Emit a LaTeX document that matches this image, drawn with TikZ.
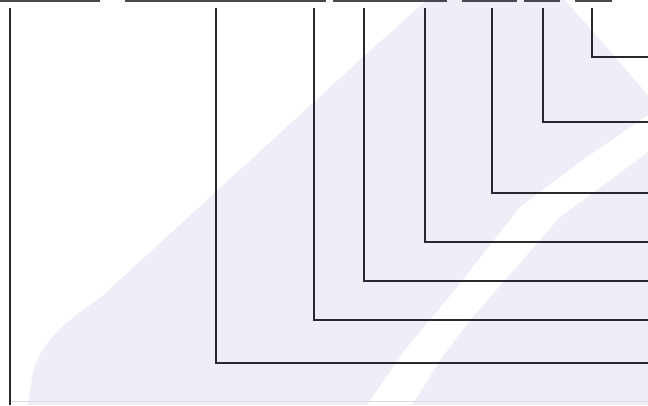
\documentclass[tikz,border=0pt]{standalone}
\usetikzlibrary{calc}
\definecolor{lav}{RGB}{239,238,248}
\definecolor{wire}{RGB}{40,40,46}
\definecolor{faint}{RGB}{218,217,228}
\tikzset{
  wirestyle/.style={draw=wire, line width=1.2pt},
  barstyle/.style={draw=wire!85, line width=1.6pt},
  washstyle/.style={fill=lav, draw=none},
}
\begin{document}
\begin{tikzpicture}[x=1pt,y=-1pt]
\useasboundingbox (0,0) rectangle (648,405);
\fill[white] (0,0) rectangle (648,405);
% watermark
\fill[washstyle] (28,405) -- (33,372) .. controls (40,345) and (60,325) .. (100,298)
  -- (363,57) -- (427,0) -- (565,0) -- (648,95) -- (648,405) -- cycle;
\fill[white] (648,115) -- (580,162) -- (520,207) -- (455,290) -- (405,350) -- (367,405)
  -- (412,405) -- (440,360) -- (470,320) -- (560,217) -- (648,152) -- cycle;
% faint bottom rule
\coordinate (fb1) at (10,401);
\coordinate (fb2) at (648,401);
\draw[faint, line width=0.8pt] (fb1) -- (fb2);
% top bars (bottoms of cut-off labels)
\foreach \a/\b [count=\i] in {0/100,125/326,333/447,462/517,524/560,575/612}{
  \coordinate (bl\i) at (\a,0.8);
  \coordinate (br\i) at (\b,0.8);
  \draw[barstyle] (bl\i) -- (br\i);
}
% tree connectors
\coordinate (s0) at (10,8);
\coordinate (e0) at (10,405);
\draw[wirestyle] (s0) -- (e0);
\foreach \x/\y [count=\i] in {216/363,314/320,364/281,425/242,492/193,543/122,592/57}{
  \coordinate (s\i) at (\x,8);
  \coordinate (e\i) at (648,\y);
  \draw[wirestyle] (s\i) |- (e\i);
}
\end{tikzpicture}
\end{document}
